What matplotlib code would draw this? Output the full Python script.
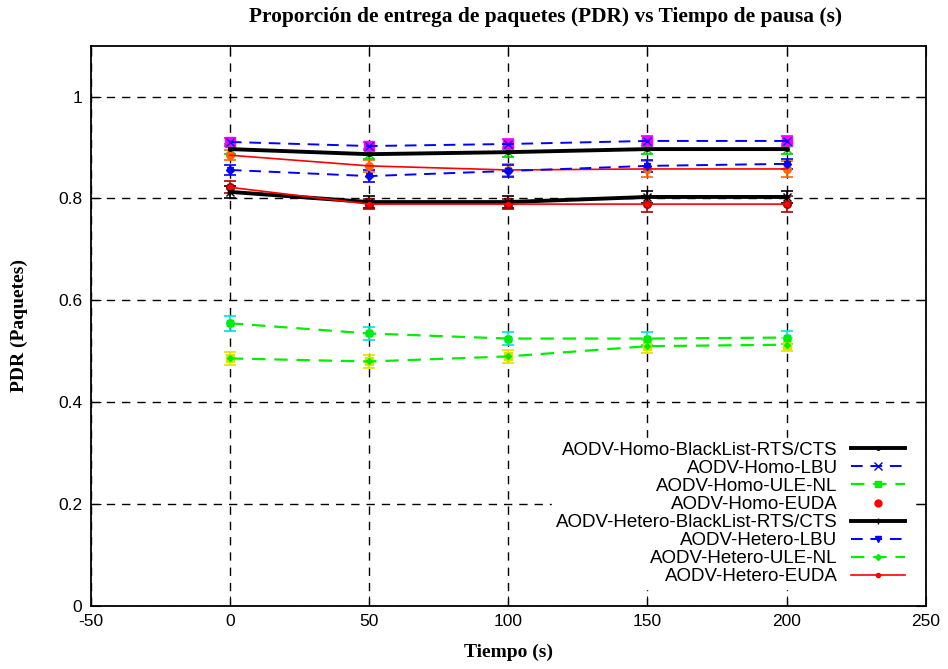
import matplotlib
matplotlib.use('Agg')
import matplotlib.pyplot as plt
from matplotlib import font_manager

# pause time (s)
tiempo = [0, 50, 100, 150, 200]

homo_blacklist = [0.897, 0.887, 0.891, 0.897, 0.897]
homo_lbu = [0.911, 0.903, 0.907, 0.913, 0.913]
homo_ule = [0.555, 0.535, 0.525, 0.525, 0.527]
homo_euda = [0.885, 0.864, 0.856, 0.858, 0.858]
hetero_blacklist = [0.813, 0.793, 0.793, 0.803, 0.803]
hetero_lbu = [0.856, 0.844, 0.854, 0.864, 0.868]
hetero_ule = [0.486, 0.480, 0.490, 0.510, 0.513]
hetero_euda = [0.822, 0.789, 0.789, 0.789, 0.789]

# error bar half widths
err_homo_blacklist = [0.010, 0.010, 0.010, 0.010, 0.010]
err_homo_lbu = [0.008, 0.008, 0.010, 0.010, 0.010]
err_homo_ule = [0.015, 0.013, 0.013, 0.013, 0.012]
err_homo_euda = [0.010, 0.012, 0.012, 0.015, 0.015]
err_hetero_blacklist = [0.012, 0.012, 0.012, 0.012, 0.012]
err_hetero_lbu = [0.010, 0.012, 0.012, 0.012, 0.010]
err_hetero_ule = [0.012, 0.013, 0.013, 0.013, 0.013]
err_hetero_euda = [0.012, 0.010, 0.010, 0.015, 0.015]

x_ticks = [-50, 0, 50, 100, 150, 200, 250]
y_ticks = [0, 0.2, 0.4, 0.6, 0.8, 1]
y_tick_labels = ['0', '0.2', '0.4', '0.6', '0.8', '1']

plt.rcParams['axes.unicode_minus'] = False
names = [f.name for f in font_manager.fontManager.ttflist]
tick_family = 'Liberation Sans Narrow' if 'Liberation Sans Narrow' in names else 'Liberation Sans'
serif = 'Liberation Serif'

fig = plt.figure(figsize=(9.48, 6.69), dpi=100)
ax = fig.add_axes([0.0957, 0.0942, 0.8808, 0.8375])

# error bars (drawn like gnuplot, own colours)
def errs(y, e, color, marker, ms=5.5):
    ax.errorbar(tiempo, y, yerr=e, fmt=marker, color=color, ms=ms, capsize=4,
                elinewidth=1.2, capthick=1.2, zorder=4)

errs(homo_lbu, err_homo_lbu, '#ff00ff', 's', 6.5)
errs(homo_blacklist, err_homo_blacklist, '#00cc00', 'x')
errs(homo_euda, err_homo_euda, '#ff6600', 'o')
errs(hetero_lbu, err_hetero_lbu, '#0000ff', 'D', 4.5)
errs(hetero_blacklist, err_hetero_blacklist, '#000000', 'x')
errs(hetero_euda, err_hetero_euda, '#b00000', 'o')
errs(homo_ule, err_homo_ule, '#00e0e0', 'o')
errs(hetero_ule, err_hetero_ule, '#e0e000', 's')

ax.plot(tiempo, homo_blacklist, color='black', lw=2.8, marker='.', ms=5,
        label='AODV-Homo-BlackList-RTS/CTS', zorder=5)
ax.plot(tiempo, homo_lbu, color='#0000ff', lw=1.4, ls=(0, (6, 4)), marker='x', ms=6,
        label='AODV-Homo-LBU', zorder=5)
ax.plot(tiempo, homo_ule, color='#00ee00', lw=1.6, ls=(0, (6, 4)), marker='s', ms=4,
        label='AODV-Homo-ULE-NL', zorder=5)
ax.plot(tiempo, homo_euda, color='#ff0000', lw=1.2, label='_nolegend_', zorder=5)
ax.plot([], [], color='#ff0000', lw=0, marker='o', ms=5, label='AODV-Homo-EUDA')
ax.plot(tiempo, hetero_blacklist, color='black', lw=2.8, marker='+', ms=4,
        label='AODV-Hetero-BlackList-RTS/CTS', zorder=5)
ax.plot(tiempo, hetero_lbu, color='#0000ff', lw=1.4, ls=(0, (6, 4)), marker='v', ms=4,
        label='AODV-Hetero-LBU', zorder=5)
ax.plot(tiempo, hetero_ule, color='#00ee00', lw=1.6, ls=(0, (6, 4)), marker='D', ms=3,
        label='AODV-Hetero-ULE-NL', zorder=5)
ax.plot(tiempo, hetero_euda, color='#ff0000', lw=1.2, marker='o', ms=3,
        label='AODV-Hetero-EUDA', zorder=5)

ax.set_xlim(-50, 250)
ax.set_ylim(0, 1.1)
ax.set_xticks(x_ticks)
ax.set_yticks(y_ticks)
ax.set_yticklabels(y_tick_labels)
ax.grid(True, color='black', ls=(0, (6, 5)), lw=1.0)
ax.set_axisbelow(True)
ax.tick_params(direction='in', length=7, top=True, right=True, labelsize=12.5, pad=6)
for lab in ax.get_xticklabels() + ax.get_yticklabels():
    lab.set_family(tick_family)
for s in ax.spines.values():
    s.set_linewidth(1.3)

ax.set_xlabel('Tiempo (s)', family=serif, fontweight='bold', fontsize=14, labelpad=10)
ax.set_ylabel('PDR (Paquetes)', family=serif, fontweight='bold', fontsize=14, labelpad=22)
fig.text(0.575, 0.974, 'Proporción de entrega de paquetes (PDR) vs Tiempo de pausa (s)',
         family=serif, fontweight='bold', fontsize=15.4, ha='center', va='center')

leg = ax.legend(loc='lower right', markerfirst=False, frameon=True, fancybox=False,
                edgecolor='white', facecolor='white', framealpha=1,
                prop={'family': 'Liberation Sans', 'size': 13.5},
                labelspacing=0.05, handlelength=2.9, handletextpad=0.7,
                borderpad=0.2, borderaxespad=0.9)
leg.set_zorder(3)
for col in leg._legend_handle_box.get_children():
    col.align = 'right'

fig.savefig('out.png', dpi=100)
